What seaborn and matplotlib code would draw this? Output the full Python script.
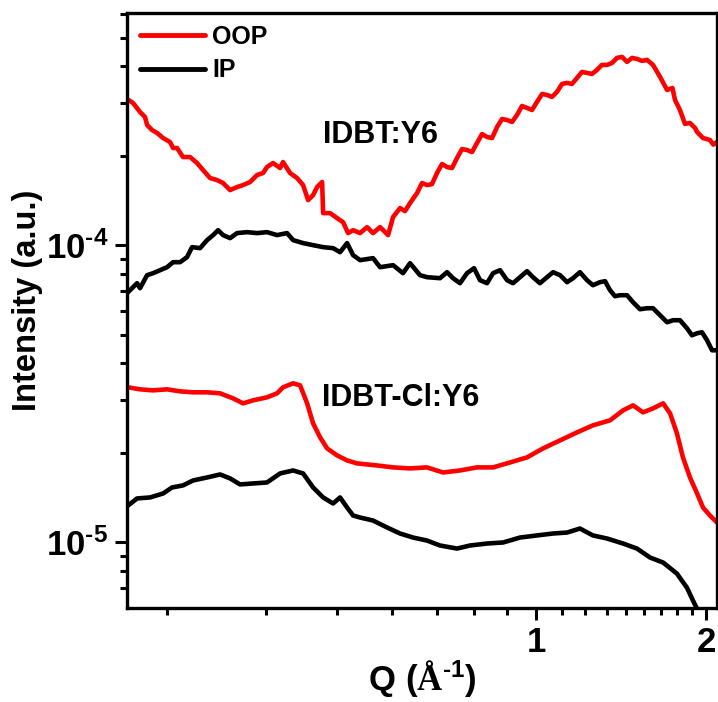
import matplotlib
matplotlib.use("Agg")
import matplotlib.pyplot as plt
import seaborn as sns
import pandas as pd
from matplotlib.ticker import FixedLocator, FixedFormatter, NullFormatter

# ---------------- data ----------------
q_oop_y6 = [0.1888, 0.1935, 0.1991, 0.2032, 0.2049, 0.2091, 0.2135, 0.2187, 0.2250, 0.2278,
            0.2316, 0.2372, 0.2441, 0.2512, 0.2574, 0.2649, 0.2726, 0.2793, 0.2874, 0.2957,
            0.3030, 0.3118, 0.3208, 0.3287, 0.3341, 0.3424, 0.3523, 0.3566, 0.3670, 0.3776,
            0.3870, 0.3950, 0.4031, 0.4097, 0.4182, 0.4199, 0.4320, 0.4445, 0.4555, 0.4649,
            0.4745, 0.4882, 0.5023, 0.5147, 0.5296, 0.5472, 0.5584, 0.5745, 0.5984, 0.6157,
            0.6413, 0.6680, 0.6958, 0.7247, 0.7549, 0.7862, 0.8190, 0.8532, 0.8887, 0.9255,
            0.9640, 1.004, 1.046, 1.089, 1.135, 1.182, 1.231, 1.282, 1.336, 1.391,
            1.449, 1.509, 1.572, 1.611, 1.658, 1.706, 1.762, 1.798, 1.873, 1.928,
            1.975, 2.032, 2.091,
            # noise points between the samples above
            0.5862, 0.6284, 0.6544, 0.6817, 0.7101, 0.7396, 0.7704, 0.8025, 0.8360, 0.8707,
            0.9069, 0.9445, 0.9838, 1.025, 1.067, 1.112, 1.158, 1.206, 1.256, 1.308,
            1.363, 1.420, 1.479, 1.540, 1.744, 1.835, 1.912, 2.060]
i_oop_y6 = [3.105e-4, 3.010e-4, 2.807e-4, 2.700e-4, 2.538e-4, 2.441e-4, 2.385e-4, 2.294e-4, 2.224e-4, 2.123e-4,
            2.123e-4, 1.980e-4, 1.980e-4, 1.890e-4, 1.790e-4, 1.682e-4, 1.656e-4, 1.618e-4, 1.532e-4, 1.569e-4,
            1.593e-4, 1.631e-4, 1.722e-4, 1.749e-4, 1.832e-4, 1.890e-4, 1.818e-4, 1.904e-4, 1.749e-4, 1.682e-4,
            1.593e-4, 1.418e-4, 1.474e-4, 1.569e-4, 1.631e-4, 1.282e-4, 1.282e-4, 1.233e-4, 1.195e-4, 1.098e-4,
            1.123e-4, 1.098e-4, 1.150e-4, 1.098e-4, 1.150e-4, 1.081e-4, 1.243e-4, 1.333e-4, 1.385e-4, 1.497e-4,
            1.593e-4, 1.749e-4, 1.832e-4, 1.965e-4, 2.090e-4, 2.207e-4, 2.312e-4, 2.499e-4, 2.638e-4, 2.743e-4,
            2.896e-4, 3.034e-4, 3.203e-4, 3.279e-4, 3.516e-4, 3.655e-4, 3.800e-4, 3.889e-4, 4.043e-4, 4.269e-4,
            4.139e-4, 4.236e-4, 4.203e-4, 4.043e-4, 3.683e-4, 3.330e-4, 3.081e-4, 2.851e-4, 2.577e-4, 2.404e-4,
            2.294e-4, 2.259e-4, 2.224e-4,
            1.302e-4, 1.618e-4, 1.605e-4, 1.875e-4, 1.818e-4, 2.106e-4, 2.058e-4, 2.366e-4, 2.294e-4, 2.659e-4,
            2.598e-4, 2.941e-4, 2.851e-4, 3.228e-4, 3.154e-4, 3.489e-4, 3.489e-4, 3.829e-4, 3.770e-4, 4.043e-4,
            4.106e-4, 4.302e-4, 4.269e-4, 4.171e-4, 3.380e-4, 2.560e-4, 2.480e-4, 2.180e-4]

q_ip_y6 = [0.1888, 0.1935, 0.1967, 0.1991, 0.2049, 0.2100, 0.2161, 0.2223, 0.2278, 0.2344,
           0.2411, 0.2461, 0.2543, 0.2617, 0.2682, 0.2737, 0.2793, 0.2874, 0.2957, 0.3080,
           0.3208, 0.3341, 0.3480, 0.3625, 0.3715, 0.3870, 0.4031, 0.4199, 0.4373, 0.4499,
           0.4630, 0.4745, 0.4882, 0.5147, 0.5296, 0.5584, 0.5815, 0.5984, 0.6232, 0.6413,
           0.6762, 0.7130, 0.7549, 0.7959, 0.8394, 0.8887, 0.9369, 0.9878, 1.046, 1.103,
           1.163, 1.231, 1.298, 1.352, 1.408, 1.485, 1.572, 1.658, 1.748, 1.850,
           1.928, 2.008, 2.091,
           # noise points between the samples above
           0.6958, 0.7336, 0.7768, 0.8190, 0.8636, 0.9105, 0.9640, 1.016, 1.072, 1.135,
           1.196, 1.261, 1.325, 1.380, 1.449, 1.528, 1.611, 1.706, 1.798, 1.888,
           1.967, 2.049]
i_ip_y6 = [6.890e-5, 7.219e-5, 7.447e-5, 7.164e-5, 7.923e-5, 8.047e-5, 8.237e-5, 8.430e-5, 8.764e-5, 8.764e-5,
           9.111e-5, 9.846e-5, 9.770e-5, 1.040e-4, 1.081e-4, 1.123e-4, 1.081e-4, 1.056e-4, 1.098e-4, 1.106e-4,
           1.098e-4, 1.106e-4, 1.081e-4, 1.098e-4, 1.040e-4, 1.016e-4, 1.000e-4, 9.846e-5, 9.770e-5, 9.471e-5,
           1.016e-4, 9.253e-5, 8.902e-5, 9.041e-5, 8.430e-5, 8.562e-5, 8.047e-5, 8.696e-5, 7.923e-5, 7.801e-5,
           7.741e-5, 7.741e-5, 8.047e-5, 7.622e-5, 8.047e-5, 7.622e-5, 7.801e-5, 7.801e-5, 7.801e-5, 7.923e-5,
           7.741e-5, 7.622e-5, 7.505e-5, 7.053e-5, 6.784e-5, 6.425e-5, 6.133e-5, 5.809e-5, 5.588e-5, 5.251e-5,
           5.051e-5, 4.784e-5, 4.427e-5,
           8.110e-5, 7.447e-5, 8.365e-5, 7.447e-5, 8.237e-5, 7.447e-5, 8.173e-5, 7.447e-5, 8.110e-5, 7.505e-5,
           8.110e-5, 7.331e-5, 7.563e-5, 6.731e-5, 6.784e-5, 6.085e-5, 6.133e-5, 5.501e-5, 5.588e-5, 4.973e-5,
           5.091e-5, 4.427e-5]

q_oop_cl = [0.1896, 0.1991, 0.2100, 0.2223, 0.2344, 0.2471, 0.2617, 0.2759, 0.2909, 0.3030,
            0.3156, 0.3341, 0.3480, 0.3566, 0.3715, 0.3823, 0.3934, 0.4031, 0.4148, 0.4268,
            0.4445, 0.4630, 0.4823, 0.5232, 0.5584, 0.5984, 0.6413, 0.6845, 0.7336, 0.7862,
            0.8394, 0.8995, 0.9640, 1.029, 1.103, 1.182, 1.261, 1.352, 1.426, 1.485,
            1.547, 1.611, 1.679, 1.727, 1.776, 1.820, 1.873, 1.928, 1.975, 2.032, 2.091]
i_oop_cl = [3.322e-5, 3.271e-5, 3.245e-5, 3.271e-5, 3.220e-5, 3.196e-5, 3.196e-5, 3.171e-5, 3.050e-5, 2.934e-5,
            3.003e-5, 3.074e-5, 3.171e-5, 3.322e-5, 3.427e-5, 3.374e-5, 2.934e-5, 2.512e-5, 2.254e-5, 2.069e-5,
            1.960e-5, 1.885e-5, 1.842e-5, 1.813e-5, 1.786e-5, 1.772e-5, 1.786e-5, 1.717e-5, 1.744e-5, 1.786e-5,
            1.786e-5, 1.856e-5, 1.930e-5, 2.069e-5, 2.202e-5, 2.343e-5, 2.474e-5, 2.572e-5, 2.779e-5, 2.889e-5,
            2.736e-5, 2.822e-5, 2.934e-5, 2.715e-5, 2.325e-5, 1.930e-5, 1.652e-5, 1.459e-5, 1.309e-5, 1.230e-5, 1.165e-5]

q_ip_cl = [0.1896, 0.1967, 0.2074, 0.2187, 0.2269, 0.2372, 0.2471, 0.2617, 0.2759, 0.2874,
           0.2993, 0.3156, 0.3341, 0.3523, 0.3715, 0.3870, 0.4031, 0.4199, 0.4373, 0.4499,
           0.4630, 0.4745, 0.4882, 0.5147, 0.5450, 0.5745, 0.6057, 0.6413, 0.6762, 0.7247,
           0.7641, 0.8190, 0.8743, 0.9369, 1.004, 1.072, 1.135, 1.196, 1.261, 1.336,
           1.426, 1.509, 1.592, 1.679, 1.776, 1.850, 1.896, 1.975]
i_ip_cl = [1.329e-5, 1.404e-5, 1.415e-5, 1.459e-5, 1.529e-5, 1.553e-5, 1.614e-5, 1.652e-5, 1.691e-5, 1.640e-5,
           1.565e-5, 1.577e-5, 1.589e-5, 1.704e-5, 1.744e-5, 1.704e-5, 1.529e-5, 1.415e-5, 1.350e-5, 1.415e-5,
           1.309e-5, 1.230e-5, 1.211e-5, 1.183e-5, 1.121e-5, 1.070e-5, 1.037e-5, 1.013e-5, 9.75e-6, 9.52e-6,
           9.75e-6, 9.90e-6, 9.98e-6, 1.037e-5, 1.054e-5, 1.070e-5, 1.078e-5, 1.112e-5, 1.054e-5, 1.029e-5,
           9.90e-6, 9.52e-6, 8.88e-6, 8.54e-6, 7.84e-6, 7.03e-6, 6.36e-6, 5.44e-6]

directions = ["OOP", "IP"]
samples = ["IDBT:Y6", "IDBT-Cl:Y6"]
x_major_ticks = [1, 2]
x_tick_labels = ["1", "2"]
y_major_ticks = [1e-5, 1e-4]
y_tick_labels = ["$\\mathbf{10^{\u2010 5}}$", "$\\mathbf{10^{\u2010 4}}$"]

# ---------------- build table ----------------
frames = []
for q, i, d, s in [(q_oop_y6, i_oop_y6, "OOP", "IDBT:Y6"),
                   (q_ip_y6, i_ip_y6, "IP", "IDBT:Y6"),
                   (q_oop_cl, i_oop_cl, "OOP", "IDBT-Cl:Y6"),
                   (q_ip_cl, i_ip_cl, "IP", "IDBT-Cl:Y6")]:
    frames.append(pd.DataFrame({"Q": q, "I": i, "dir": d, "sample": s}))
df = pd.concat(frames, ignore_index=True)

# ---------------- style ----------------
sns.set_style("ticks")
plt.rcParams["font.family"] = ["Liberation Sans", "DejaVu Sans"]
plt.rcParams["font.weight"] = "bold"
plt.rcParams["mathtext.fontset"] = "custom"
plt.rcParams["mathtext.rm"] = "Liberation Serif"
plt.rcParams["mathtext.bf"] = "Liberation Sans:bold"
plt.rcParams["mathtext.it"] = "Liberation Sans:italic"
for k in ["axes.edgecolor", "xtick.color", "ytick.color", "text.color", "axes.labelcolor"]:
    plt.rcParams[k] = "black"

fig = plt.figure(figsize=(7.18, 7.02), dpi=100)
ax = fig.add_axes([127 / 718, 1 - 607.7 / 702, 590 / 718, 595 / 702])

sns.lineplot(data=df, x="Q", y="I", hue="dir", units="sample", estimator=None,
             palette={"OOP": "#ff0000", "IP": "#000000"}, hue_order=directions,
             linewidth=3.3, ax=ax, legend=True)

ax.set_xscale("log")
ax.set_yscale("log")
ax.set_xlim(0.1888, 2.091)
ax.set_ylim(6.02e-6, 6.06e-4)

ax.xaxis.set_major_locator(FixedLocator(x_major_ticks))
ax.xaxis.set_major_formatter(FixedFormatter(x_tick_labels))
ax.xaxis.set_minor_locator(FixedLocator([k / 9 for k in range(2, 9)] + [1 + k / 9 for k in range(1, 9)]))
ax.xaxis.set_minor_formatter(NullFormatter())
ax.yaxis.set_major_locator(FixedLocator(y_major_ticks))
ax.yaxis.set_major_formatter(FixedFormatter(y_tick_labels))
ax.yaxis.set_minor_locator(FixedLocator([m * 1e-6 for m in range(6, 10)] + [m * 1e-5 for m in range(2, 10)]
                                        + [m * 1e-4 for m in range(2, 7)]))
ax.yaxis.set_minor_formatter(NullFormatter())

for sp in ax.spines.values():
    sp.set_linewidth(2.4)
    sp.set_visible(True)
    sp.set_color("black")
ax.tick_params(which="major", length=8.5, width=2.2, labelsize=25, pad=5, direction="out", colors="black")
ax.tick_params(which="minor", length=5, width=2.2, direction="out", colors="black")
ax.tick_params(top=False, right=False, which="both")

ax.set_xlabel("$\\mathbf{Q\\ (}\\mathrm{\u00c5}^{\\mathbf{\u2010 1}}\\mathbf{)}$", fontsize=25)
ax.xaxis.set_label_coords(0.5, -0.085)
ax.set_ylabel("Intensity (a.u.)", fontsize=23.5, fontweight="bold")
ax.yaxis.set_label_coords(-0.143, 0.517)

ax.text(0.332, 0.794, samples[0], transform=ax.transAxes, fontsize=22, fontweight="bold",
        ha="left", va="center", color="black")
ax.text(0.330, 0.352, samples[1], transform=ax.transAxes, fontsize=22, fontweight="bold",
        ha="left", va="center", color="black")

leg = ax.legend(loc="upper left", frameon=False, fontsize=18, handlelength=2.6,
                handletextpad=0.3, labelspacing=0.37, borderaxespad=0.3, borderpad=0.2)
for t in leg.get_texts():
    t.set_fontweight("bold")
for h in leg.get_lines():
    h.set_linewidth(3.5)

fig.savefig("out.png", dpi=100)
